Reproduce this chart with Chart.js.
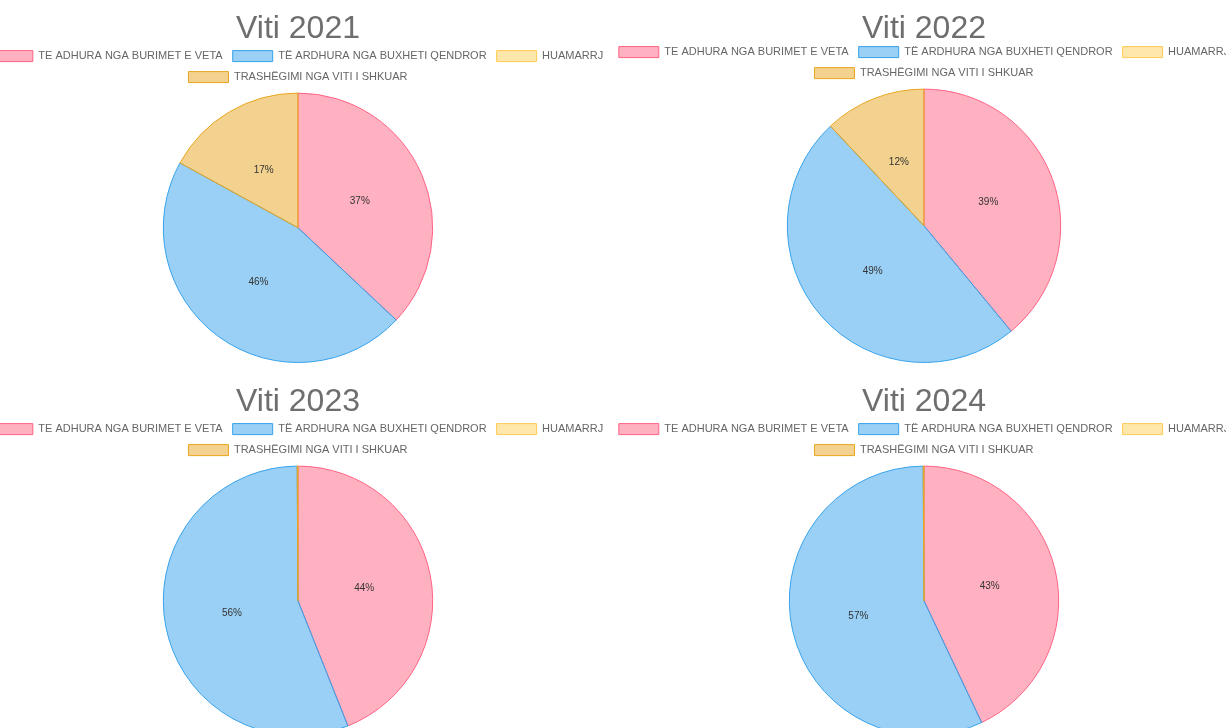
<!DOCTYPE html>
<html>
<head>
<meta charset="utf-8">
<script src="https://cdn.jsdelivr.net/npm/chart.js@4.4.1/dist/chart.umd.min.js"></script>
<style>
  html, body { margin: 0; padding: 0; background: #fff; }
  body { width: 1226px; height: 728px; overflow: hidden; position: relative; }
  .panel { position: absolute; width: 640px; height: 373px; }
</style>
</head>
<body>
<div class="panel" style="left:-22px; top:0"><canvas id="chart0" width="640" height="373"></canvas></div>
<div class="panel" style="left:604px; top:0"><canvas id="chart1" width="640" height="373"></canvas></div>
<div class="panel" style="left:-22px; top:373px"><canvas id="chart2" width="640" height="373"></canvas></div>
<div class="panel" style="left:604px; top:373px"><canvas id="chart3" width="640" height="373"></canvas></div>
<script>
const categories = [
  "TE ADHURA NGA BURIMET E VETA",
  "TË ARDHURA NGA BUXHETI QENDROR",
  "HUAMARRJ",
  "TRASHËGIMI NGA VITI I SHKUAR"
];
const titles = ["Viti 2021", "Viti 2022", "Viti 2023", "Viti 2024"];
const values2021 = [37, 46, 0, 17];
const values2022 = [39, 49, 0, 12];
const values2023 = [44, 56, 0, 0.1];
const values2024 = [43, 57, 0, 0.1];
const seriesByYear = [values2021, values2022, values2023, values2024];

const fillColors = [
  "rgba(255, 99, 132, 0.5)",
  "rgba(54, 162, 235, 0.5)",
  "rgba(255, 205, 86, 0.5)",
  "rgba(232, 166, 32, 0.5)"
];
const lineColors = [
  "rgb(255, 99, 132)",
  "rgb(54, 162, 235)",
  "rgb(255, 205, 86)",
  "rgb(232, 166, 32)"
];

// small per-chart tweak: the 2022 legend sits a bit higher
const titlePadding = [
  { top: 16, bottom: -1 },
  { top: 16, bottom: -5 },
  { top: 16, bottom: -1 },
  { top: 16, bottom: -1 }
];

// percent text in the middle of every slice
const percentLabels = {
  id: "percentLabels",
  afterDatasetsDraw(chart) {
    const ctx = chart.ctx;
    const data = chart.data.datasets[0].data;
    const total = data.reduce((a, b) => a + b, 0);
    const meta = chart.getDatasetMeta(0);
    ctx.save();
    ctx.font = "10px 'Liberation Sans', Arial, sans-serif";
    ctx.fillStyle = "#333";
    ctx.textAlign = "center";
    ctx.textBaseline = "middle";
    meta.data.forEach((arc, i) => {
      const pct = (data[i] / total) * 100;
      if (pct < 1) return;
      const pos = arc.tooltipPosition();
      ctx.fillText(Math.round(pct) + "%", pos.x, pos.y);
    });
    ctx.restore();
  }
};

seriesByYear.forEach((values, i) => {
  new Chart(document.getElementById("chart" + i), {
    type: "pie",
    data: {
      labels: categories,
      datasets: [{
        data: values,
        backgroundColor: fillColors,
        borderColor: lineColors,
        borderWidth: 1
      }]
    },
    options: {
      responsive: false,
      animation: false,
      layout: { padding: { bottom: 10 } },
      plugins: {
        title: {
          display: true,
          text: titles[i],
          color: "#6e6e6e",
          font: { family: "'Liberation Sans', Arial, sans-serif", size: 32, weight: "normal", lineHeight: 0.8 },
          padding: titlePadding[i]
        },
        legend: {
          position: "top",
          labels: {
            color: "#666",
            boxWidth: 40,
            padding: 10,
            font: { family: "'Liberation Sans', Arial, sans-serif", size: 11 }
          }
        },
        tooltip: { enabled: false }
      }
    },
    plugins: [percentLabels]
  });
});
</script>
</body>
</html>
